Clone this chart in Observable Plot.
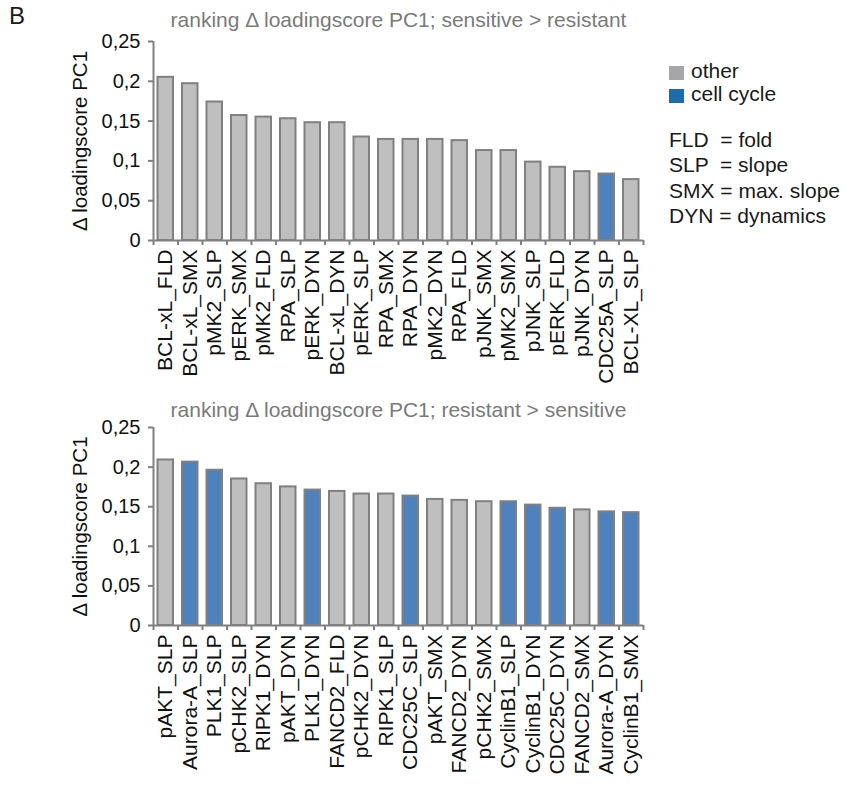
<!DOCTYPE html>
<html>
<head>
<meta charset="utf-8">
<script src="https://cdn.jsdelivr.net/npm/d3@7"></script>
<script src="https://cdn.jsdelivr.net/npm/@observablehq/plot@0.6"></script>
<style>
  body { margin: 0; background: #fff; font-family: "Liberation Sans", Arial, sans-serif; }
  #wrap { position: relative; width: 850px; height: 798px; overflow: hidden; }
  #wrap svg { position: absolute; left: 0; }
  .abs { position: absolute; white-space: pre; line-height: 21px; font-size: 21px; color: #1a1a1a; }
  .sq { position: absolute; width: 15px; height: 14px; }
</style>
</head>
<body>
<div id="wrap"></div>
<script>
// ---- data ----
const topLabels = ["BCL-xL_FLD","BCL-xL_SMX","pMK2_SLP","pERK_SMX","pMK2_FLD","RPA_SLP","pERK_DYN","BCL-xL_DYN","pERK_SLP","RPA_SMX","RPA_DYN","pMK2_DYN","RPA_FLD","pJNK_SMX","pMK2_SMX","pJNK_SLP","pERK_FLD","pJNK_DYN","CDC25A_SLP","BCL-XL_SLP"];
const topValues = [0.205,0.197,0.174,0.157,0.155,0.153,0.148,0.148,0.130,0.127,0.127,0.127,0.1255,0.113,0.113,0.0985,0.092,0.0865,0.0835,0.0765];
const topGroups = ["other","other","other","other","other","other","other","other","other","other","other","other","other","other","other","other","other","other","cell cycle","other"];

const bottomLabels = ["pAKT_SLP","Aurora-A_SLP","PLK1_SLP","pCHK2_SLP","RIPK1_DYN","pAKT_DYN","PLK1_DYN","FANCD2_FLD","pCHK2_DYN","RIPK1_SLP","CDC25C_SLP","pAKT_SMX","FANCD2_DYN","pCHK2_SMX","CyclinB1_SLP","CyclinB1_DYN","CDC25C_DYN","FANCD2_SMX","Aurora-A_DYN","CyclinB1_SMX"];
const bottomValues = [0.209,0.2063,0.196,0.185,0.179,0.175,0.171,0.1693,0.166,0.166,0.1634,0.1592,0.158,0.1563,0.1563,0.152,0.148,0.146,0.1435,0.1425];
const bottomGroups = ["other","cell cycle","cell cycle","other","other","other","cell cycle","other","other","other","cell cycle","other","other","other","cell cycle","cell cycle","cell cycle","other","cell cycle","cell cycle"];

const yTicks = [0, 0.05, 0.1, 0.15, 0.2, 0.25];
const yTickLabels = ["0", "0,05", "0,1", "0,15", "0,2", "0,25"];
const yLabel = "\u0394 loadingscore PC1";
const titles = ["ranking \u0394 loadingscore PC1; sensitive > resistant", "ranking \u0394 loadingscore PC1; resistant > sensitive"];
const groupNames = ["other", "cell cycle"];
const barColors = ["#bfbfbf", "#4f81bd"];
const legendColors = ["#a6a6a8", "#1f6aa8"];
const abbreviations = ["FLD  = fold", "SLP  = slope", "SMX = max. slope", "DYN = dynamics"];
const panelLetter = "B";

// ---- drawing ----
const FONT = "'Liberation Sans', Arial, sans-serif";
const AXIS = "#808080";
const wrap = document.getElementById("wrap");

function chart(labels, values, groups, title, opts) {
  const data = labels.map((l, i) => ({i, label: l, v: values[i], g: groups[i]}));
  const n = labels.length;
  const svg = Plot.plot({
    width: 850,
    height: opts.height,
    marginLeft: 153,
    marginRight: 207,
    marginTop: opts.marginTop,
    marginBottom: opts.marginBottom,
    style: {fontFamily: FONT, background: "transparent", overflow: "visible"},
    x: {type: "linear", domain: [0, n], axis: null, label: null},
    y: {domain: [0, 0.25], axis: null, label: null},
    color: {domain: groupNames, range: barColors},
    marks: [
      Plot.rectY(data, {x1: "i", x2: d => d.i + 1, y: "v", fill: "g", stroke: AXIS, strokeWidth: 2, insetLeft: 4.5, insetRight: 4.5}),
      Plot.ruleX([0], {stroke: AXIS, strokeWidth: 2}),
      Plot.ruleY([0], {stroke: AXIS, strokeWidth: 2}),
      Plot.axisY({ticks: yTicks, tickFormat: d => yTickLabels[yTicks.indexOf(d)], tickSize: 5, tickPadding: 8, fontSize: 20, stroke: AXIS, strokeWidth: 2, fill: "#111", label: null}),
      Plot.axisX({ticks: d3.range(n + 1), tickFormat: () => "", tickSize: 5, stroke: AXIS, strokeWidth: 2, label: null}),
      Plot.axisX({ticks: data.map(d => d.i + 0.5), tickFormat: d => labels[Math.floor(d)], tickSize: 0, tickPadding: 9, tickRotate: -90, fontSize: 21, fill: "#111", label: null}),
      Plot.text([title], {frameAnchor: "top", lineAnchor: "middle", textAnchor: "middle", dy: opts.titleDy, fontSize: 21, fill: "#7a7a7a"}),
      Plot.text([yLabel], {frameAnchor: "left", textAnchor: "middle", lineAnchor: "middle", dx: -73, rotate: -90, fontSize: 20.5, fill: "#111"})
    ]
  });
  svg.style.top = opts.top + "px";
  wrap.appendChild(svg);
}

chart(topLabels, topValues, topGroups, titles[0], {top: 0, height: 390, marginTop: 41, marginBottom: 150, titleDy: -21});
chart(bottomLabels, bottomValues, bottomGroups, titles[1], {top: 390, height: 408, marginTop: 37, marginBottom: 173, titleDy: -17});

// panel letter
const B = document.createElement("div");
B.className = "abs";
B.style.cssText = "left:9px;top:2px;font-size:24px;line-height:28px;";
B.textContent = panelLetter;
wrap.appendChild(B);

// legend
const legendCenters = [72, 95];
groupNames.forEach((g, k) => {
  const sq = document.createElement("div");
  sq.className = "sq";
  sq.style.left = "669px";
  sq.style.top = (legendCenters[k] - 6) + "px";
  sq.style.background = legendColors[k];
  wrap.appendChild(sq);
  const t = document.createElement("div");
  t.className = "abs";
  t.style.left = "691px";
  t.style.top = (legendCenters[k] - 12) + "px";
  t.textContent = g;
  wrap.appendChild(t);
});
const abbrCenters = [139, 164, 190, 215];
abbreviations.forEach((a, k) => {
  const t = document.createElement("div");
  t.className = "abs";
  t.style.left = "669px";
  t.style.top = (abbrCenters[k] - 10) + "px";
  t.textContent = a;
  wrap.appendChild(t);
});
</script>
</body>
</html>
